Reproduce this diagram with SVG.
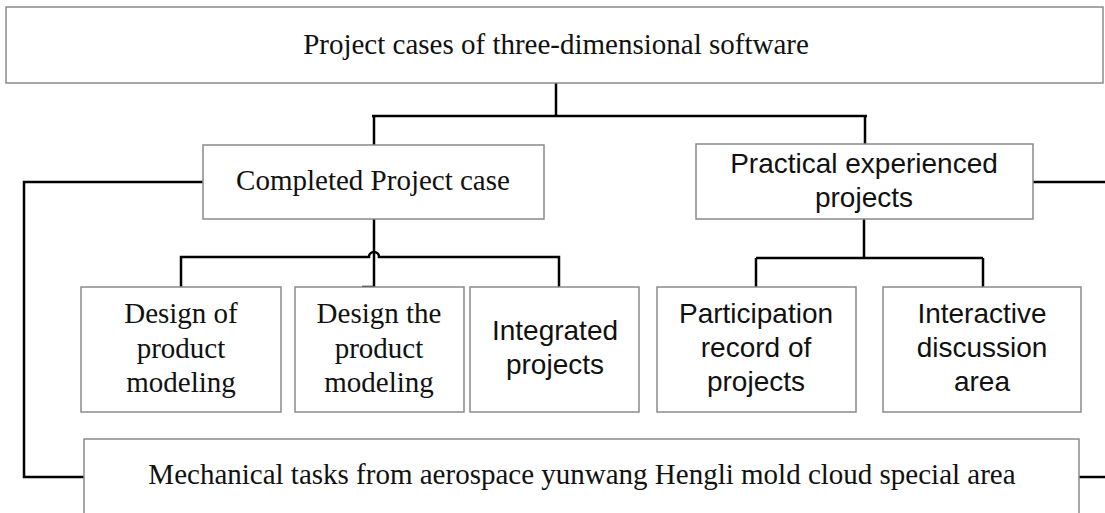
<svg xmlns="http://www.w3.org/2000/svg" width="1105" height="513" viewBox="0 0 1105 513">
  <style>
    .box { fill: #ffffff; stroke: #8a8a8a; stroke-width: 1.5; }
    .serif { font-family: "Liberation Serif", "Times New Roman", serif; font-size: 29px; fill: #111; text-anchor: middle; }
    .sans { font-family: "Liberation Sans", Arial, sans-serif; font-size: 28px; fill: #111; text-anchor: middle; }
    .wire { fill: none; stroke: #000; stroke-width: 2.5; }
  </style>
  <rect width="1105" height="513" fill="#ffffff"/>

  <!-- connectors -->
  <g id="connectors">
    <path class="wire" d="M556,83 V116 M372,116 H867 M374,116 V145 M865,116 V145"/>
    <!-- left branch of the completed cases, jumping over the bus -->
    <path class="wire" d="M181,287 V257 H369 A5,5 0 0 1 379,257 H559 V287"/>
    <path class="wire" d="M374,219 V287 H362"/>
    <!-- practical projects branch -->
    <path class="wire" d="M864,219 V258 M756,258 H983 M756,258 V287 M983,258 V287"/>
    <!-- side loops to the bottom area -->
    <path class="wire" d="M203,182 H24 V477 H84"/>
    <path class="wire" d="M1033,182 H1105"/>
    <path class="wire" d="M1079,477 H1105"/>
  </g>

  <g id="root">
    <rect class="box" x="6" y="7" width="1097" height="76"/>
    <text class="serif" x="556" y="54">Project cases of three-dimensional software</text>
  </g>

  <g id="completed">
    <rect class="box" x="203" y="145" width="341" height="74"/>
    <text class="serif" x="373" y="190">Completed Project case</text>
  </g>

  <g id="practical">
    <rect class="box" x="696" y="144" width="337" height="75"/>
    <text class="sans" x="864" y="173">Practical experienced</text>
    <text class="sans" x="864" y="207">projects</text>
  </g>

  <g id="design-of">
    <rect class="box" x="81" y="287" width="200" height="125"/>
    <text class="serif" x="181" y="323">Design of</text>
    <text class="serif" x="181" y="358">product</text>
    <text class="serif" x="181" y="392">modeling</text>
  </g>

  <g id="design-the">
    <rect class="box" x="295" y="287" width="169" height="125"/>
    <text class="serif" x="379" y="323">Design the</text>
    <text class="serif" x="379" y="358">product</text>
    <text class="serif" x="379" y="392">modeling</text>
  </g>

  <g id="integrated">
    <rect class="box" x="470" y="287" width="169" height="125"/>
    <text class="sans" x="555" y="340">Integrated</text>
    <text class="sans" x="555" y="374">projects</text>
  </g>

  <g id="participation">
    <rect class="box" x="657" y="287" width="199" height="125"/>
    <text class="sans" x="756" y="323">Participation</text>
    <text class="sans" x="756" y="357">record of</text>
    <text class="sans" x="756" y="391">projects</text>
  </g>

  <g id="discussion">
    <rect class="box" x="883" y="287" width="198" height="125"/>
    <text class="sans" x="982" y="323">Interactive</text>
    <text class="sans" x="982" y="357">discussion</text>
    <text class="sans" x="982" y="391">area</text>
  </g>

  <g id="mechanical">
    <rect class="box" x="84" y="439" width="995" height="90"/>
    <text class="serif" x="582" y="484">Mechanical tasks from aerospace yunwang Hengli mold cloud special area</text>
  </g>
</svg>
